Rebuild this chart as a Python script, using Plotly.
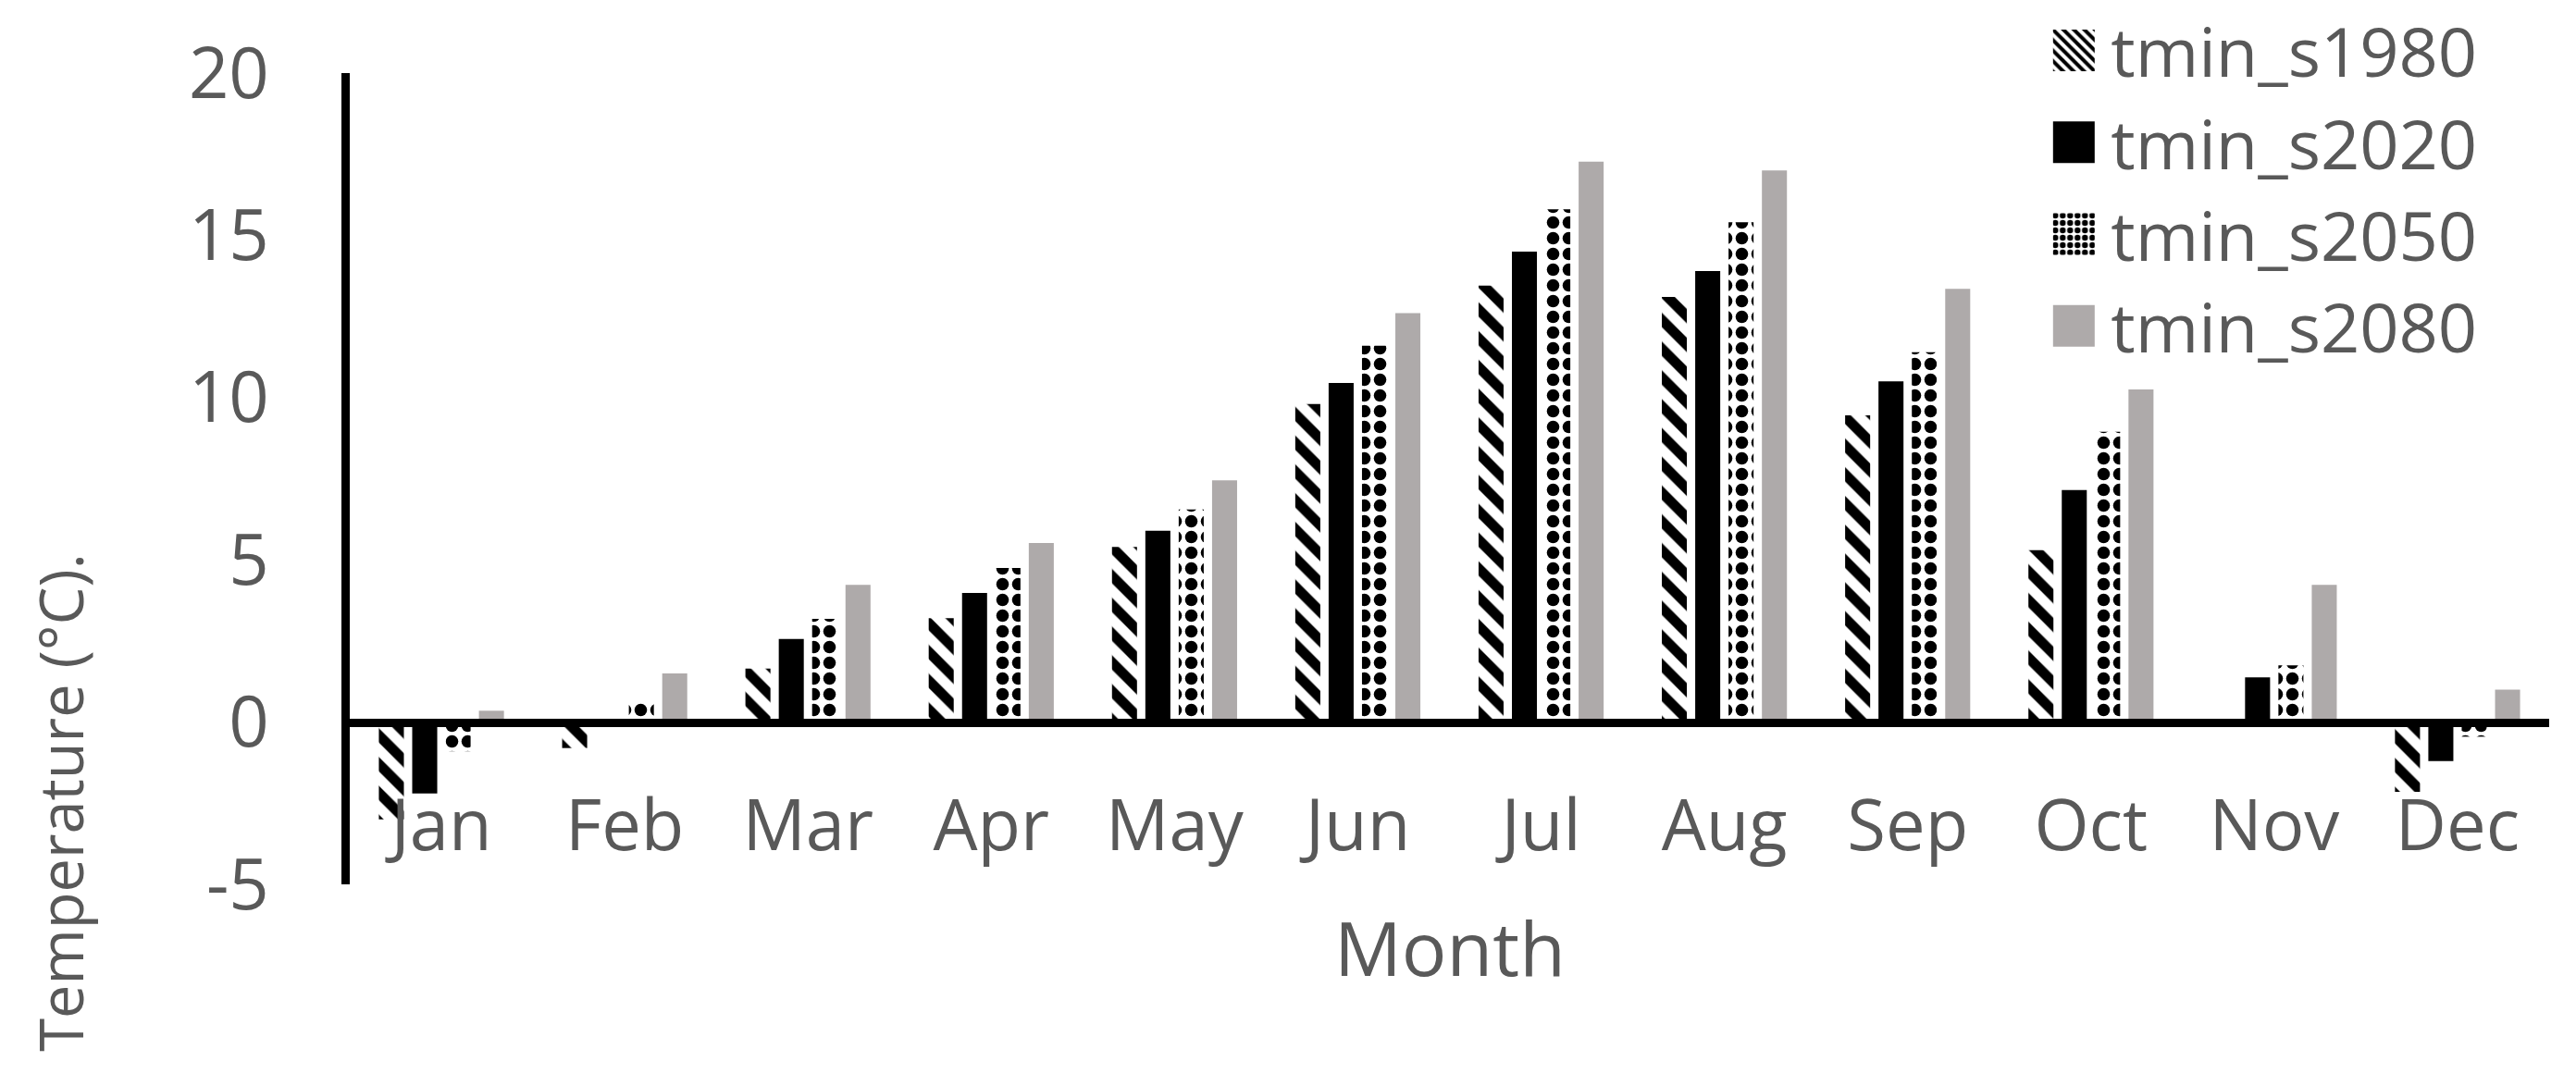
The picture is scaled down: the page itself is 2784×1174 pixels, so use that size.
import plotly.graph_objects as go

months = ["Jan", "Feb", "Mar", "Apr", "May", "Jun", "Jul", "Aug", "Sep", "Oct", "Nov", "Dec"]
tmin_s1980 = [-3.0, -0.8, 1.65, 3.2, 5.4, 9.8, 13.45, 13.1, 9.45, 5.3, 0.0, -2.15]
tmin_s2020 = [-2.2, 0.03, 2.56, 3.98, 5.9, 10.45, 14.5, 13.9, 10.5, 7.15, 1.38, -1.2]
tmin_s2050 = [-0.9, 0.62, 3.18, 4.75, 6.55, 11.6, 15.8, 15.4, 11.4, 8.95, 1.75, -0.45]
tmin_s2080 = [0.35, 1.5, 4.23, 5.52, 7.45, 12.6, 17.27, 17.0, 13.35, 10.25, 4.23, 1.0]
y_ticks = [-5, 0, 5, 10, 15, 20]
y_tick_labels = ["-5", "0", "5", "10", "15", "20"]

TXT = "#595959"
FONT = "Open Sans"

fig = go.Figure()
fig.add_trace(go.Bar(name="tmin_s1980", x=months, y=tmin_s1980, legendgroup="a",
                     marker=dict(color="white", line=dict(width=0),
                                 pattern=dict(shape="\\", fgcolor="black", bgcolor="white",
                                              fgopacity=1, size=22, solidity=0.5))))
fig.add_trace(go.Bar(name="tmin_s2020", x=months, y=tmin_s2020, legendgroup="b",
                     marker=dict(color="black", line=dict(width=0))))
fig.add_trace(go.Bar(name="tmin_s2050", x=months, y=tmin_s2050, legendgroup="c",
                     marker=dict(color="white", line=dict(width=0),
                                 pattern=dict(shape=".", fgcolor="black", bgcolor="white",
                                              fgopacity=1, size=17, solidity=0.5))))
fig.add_trace(go.Bar(name="tmin_s2080", x=months, y=tmin_s2080, legendgroup="d",
                     marker=dict(color="#AEAAAA", line=dict(width=0))))

fig.update_layout(
    width=2784, height=1174, autosize=False,
    margin=dict(l=378, r=29, t=79, b=218, autoexpand=False),
    paper_bgcolor="white", plot_bgcolor="white",
    barmode="group", bargap=0.272, bargroupgap=0.25,
    font=dict(family=FONT, color=TXT, size=76),
    showlegend=True,
    legend=dict(xref="container", yref="container", x=0.7907, y=1.0055,
                xanchor="left", yanchor="top",
                font=dict(family=FONT, size=74, color=TXT),
                itemwidth=70, tracegroupgap=0, bgcolor="rgba(0,0,0,0)",
                borderwidth=0, itemclick=False, itemdoubleclick=False),
    xaxis=dict(type="category", categoryorder="array", categoryarray=months,
               anchor="free", position=0.2, showline=True, linecolor="black",
               linewidth=9, ticks="", showgrid=False, zeroline=False, automargin=False,
               tickfont=dict(family=FONT, size=76, color=TXT),
               ticklabelstandoff=42),
    yaxis=dict(range=[-5, 20], tickvals=y_ticks, ticktext=y_tick_labels,
               showline=True, linecolor="black",
               linewidth=9, ticks="", showgrid=False, zeroline=False, automargin=False,
               tickfont=dict(family=FONT, size=76, color=TXT),
               ticklabelstandoff=63),
    annotations=[
        dict(text="Month", xref="paper", yref="paper", x=0.5, y=-0.077,
             xanchor="center", yanchor="middle", showarrow=False,
             font=dict(family=FONT, size=81, color=TXT)),
        dict(text="Temperature (°C).", xref="paper", yref="paper", x=-0.1315, y=0.101,
             xanchor="center", yanchor="middle", textangle=-90, showarrow=False,
             font=dict(family=FONT, size=65, color=TXT)),
    ],
)

post = """
document.body.style.margin = '0';
document.body.style.overflow = 'hidden';
var gd = document.getElementById('{plot_id}');
function bigLegend(){
  gd.querySelectorAll('.legendpoints path').forEach(function(p){
    p.setAttribute('d','M22.5,22.5H-22.5V-22.5H22.5Z');
  });
}
bigLegend();
gd.on('plotly_afterplot', bigLegend);
setTimeout(bigLegend, 200);
setTimeout(bigLegend, 1000);
"""

fig.write_html("out.html", post_script=post, config={"displayModeBar": False})
